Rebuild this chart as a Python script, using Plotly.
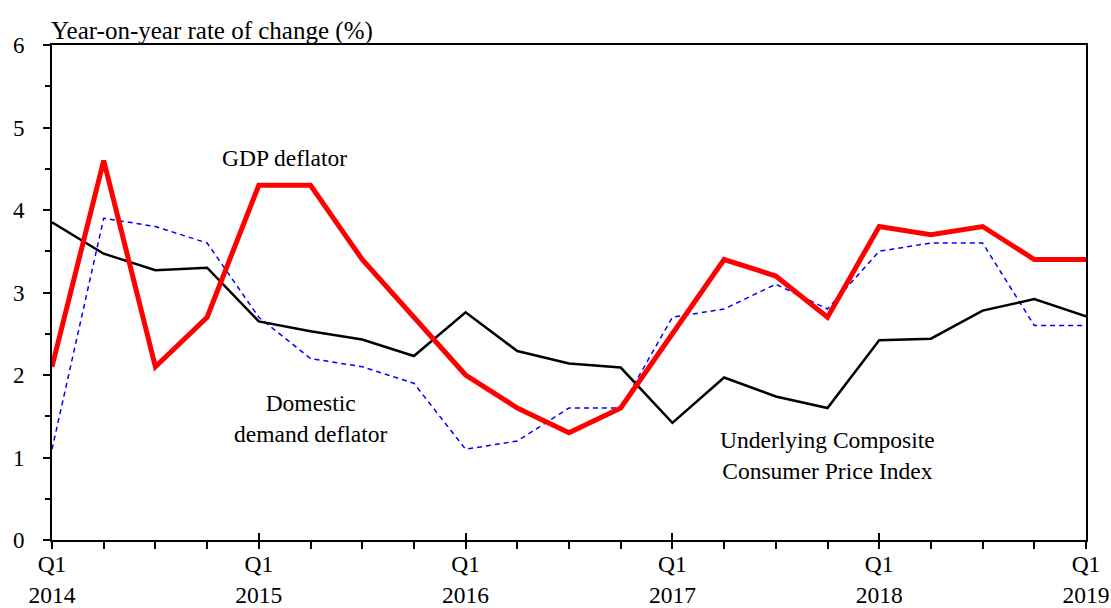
import plotly.graph_objects as go

quarters = ["2014Q1","2014Q2","2014Q3","2014Q4","2015Q1","2015Q2","2015Q3","2015Q4",
            "2016Q1","2016Q2","2016Q3","2016Q4","2017Q1","2017Q2","2017Q3","2017Q4",
            "2018Q1","2018Q2","2018Q3","2018Q4","2019Q1"]
gdp_deflator = [2.1, 4.6, 2.1, 2.7, 4.3, 4.3, 3.4, 2.7, 2.0, 1.6, 1.3, 1.6,
                2.5, 3.4, 3.2, 2.7, 3.8, 3.7, 3.8, 3.4, 3.4]
domestic_demand_deflator = [1.1, 3.9, 3.8, 3.6, 2.7, 2.2, 2.1, 1.9, 1.1, 1.2, 1.6, 1.6,
                            2.7, 2.8, 3.1, 2.8, 3.5, 3.6, 3.6, 2.6, 2.6]
underlying_ccpi = [3.85, 3.47, 3.27, 3.30, 2.65, 2.53, 2.43, 2.23, 2.76, 2.29, 2.14, 2.09,
                   1.42, 1.97, 1.74, 1.60, 2.42, 2.44, 2.78, 2.92, 2.71]
tick_positions = [0, 4, 8, 12, 16, 20]
tick_labels = ["Q1<br>2014", "Q1<br>2015", "Q1<br>2016", "Q1<br>2017", "Q1<br>2018", "Q1<br>2019"]

x = list(range(len(quarters)))
FONT = "Liberation Serif"

fig = go.Figure()
fig.add_trace(go.Scatter(x=x, y=domestic_demand_deflator, mode="lines",
                         line=dict(color="#0000FF", width=1.5, dash="5px,4px"),
                         name="Domestic demand deflator", hoverinfo="skip"))
fig.add_trace(go.Scatter(x=x, y=underlying_ccpi, mode="lines",
                         line=dict(color="#000000", width=2.5),
                         name="Underlying Composite Consumer Price Index", hoverinfo="skip"))
fig.add_trace(go.Scatter(x=x, y=gdp_deflator, mode="lines",
                         line=dict(color="#FF0000", width=5),
                         name="GDP deflator", hoverinfo="skip"))
# overlay axis only for the upward half of the major ticks
fig.add_trace(go.Scatter(x=[0, 20], y=[None, None], xaxis="x2", showlegend=False, hoverinfo="skip"))

fig.update_layout(
    width=1111, height=608,
    margin=dict(l=52, r=25, t=45, b=68, autoexpand=False),
    paper_bgcolor="white", plot_bgcolor="white",
    showlegend=False,
    font=dict(family=FONT, size=23, color="black"),
    xaxis=dict(range=[0, 20], showgrid=False, zeroline=False, automargin=False,
               showline=True, linecolor="black", linewidth=2, mirror=True,
               tickmode="array", tickvals=tick_positions, ticktext=tick_labels,
               ticks="outside", ticklen=7, tickwidth=2, tickcolor="black",
               ticklabelstandoff=-5,
               minor=dict(dtick=1, ticks="outside", ticklen=7, tickwidth=1.5, tickcolor="black"),
               tickfont=dict(family=FONT, size=23.5, color="black")),
    xaxis2=dict(range=[0, 20], overlaying="x", showgrid=False, zeroline=False, automargin=False,
                showline=False, tickmode="array", tickvals=tick_positions,
                ticktext=[""] * len(tick_positions), side="bottom", anchor="y",
                ticks="inside", ticklen=7, tickwidth=2, tickcolor="black"),
    yaxis=dict(range=[0, 6], showgrid=False, zeroline=False, automargin=False,
               showline=True, linecolor="black", linewidth=2, mirror=True,
               dtick=1, ticks="outside", ticklen=7, tickwidth=2, tickcolor="black",
               minor=dict(dtick=0.5, ticks="outside", ticklen=5, tickwidth=1.5, tickcolor="black"),
               ticklabelstandoff=14,
               tickfont=dict(family=FONT, size=23, color="black")),
    annotations=[
        dict(text="Year-on-year rate of change (%)", xref="paper", yref="paper",
             x=0, y=1, xanchor="left", yanchor="bottom", showarrow=False, xshift=-3, yshift=-2,
             font=dict(family=FONT, size=25, color="black")),
        dict(text="GDP deflator", x=4.5, y=4.63, showarrow=False,
             font=dict(family=FONT, size=23.5, color="black")),
        dict(text="Domestic<br>demand deflator", x=5.0, y=1.47, showarrow=False,
             font=dict(family=FONT, size=23.5, color="black")),
        dict(text="Underlying Composite<br>Consumer Price Index", x=15.0, y=1.03, showarrow=False,
             font=dict(family=FONT, size=23.5, color="black")),
    ],
)

fig.write_html("out.html", config={"displayModeBar": False},
               post_script="document.body.style.margin='0';")
